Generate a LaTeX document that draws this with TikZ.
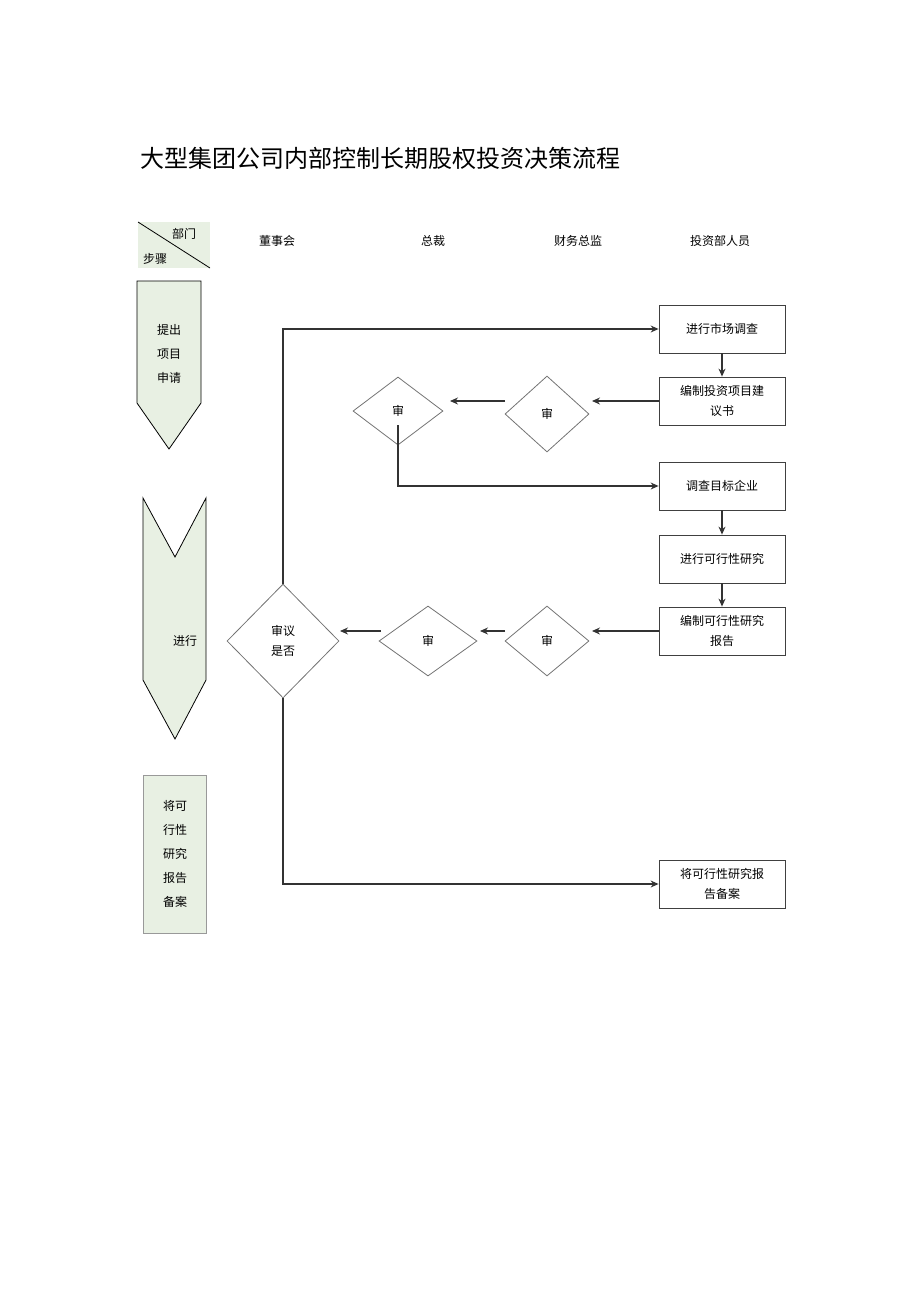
\documentclass[tikz,border=0pt]{standalone}
\usepackage{fontspec}
\setmainfont{Noto Sans CJK SC}
\usetikzlibrary{shapes.geometric,arrows.meta}
\definecolor{stepfill}{rgb}{0.91,0.94,0.89}
\tikzset{
  box/.style={draw=black!75, line width=0.8pt, minimum width=126, minimum height=48, align=center, font=\fontsize{12}{20}\selectfont},
  chk/.style={draw=black!55, line width=0.8pt, diamond, inner sep=0, align=center, font=\fontsize{12}{20}\selectfont},
  flow/.style={line width=1.2pt, black!80, -{Stealth[length=8pt,width=7pt]}},
  lane/.style={font=\fontsize{12}{14}\selectfont},
}
\begin{document}
\begin{tikzpicture}[x=1pt,y=-1pt]
    \useasboundingbox (0,0) rectangle (920,1301);
    \node[anchor=west, font=\fontsize{24}{26}\selectfont] (title) at (137,158) {大型集团公司内部控制长期股权投资决策流程};
    % header
    \draw[fill=stepfill, draw=none] (138,222) rectangle (210,268);
    \draw[line width=0.8pt] (138,222) -- (210,268);
    \node[lane] (dept) at (184,234) {部门};
    \node[lane] (step) at (155,259) {步骤};
    \node[lane] (board) at (277,241) {董事会};
    \node[lane] (ceo) at (433,241) {总裁};
    \node[lane] (cfo) at (578,241) {财务总监};
    \node[lane] (staff) at (720,241) {投资部人员};
    % steps
    \draw[fill=stepfill, line width=0.8pt] (137,281) -- (201,281) -- (201,403) -- (169,449) -- (137,403) -- cycle;
    \node[align=center, font=\fontsize{12}{24}\selectfont] (s1) at (169,354) {提出\\项目\\申请};
    \draw[fill=stepfill, line width=0.8pt] (143,498) -- (175,557) -- (206,498) -- (206,680) -- (175,739) -- (143,680) -- cycle;
    \node[lane] (s2) at (185,641) {进行};
    \draw[fill=stepfill, draw=black!40, line width=0.8pt] (143,775) rectangle (206,933);
    \node[align=center, font=\fontsize{12}{24}\selectfont] (s3) at (175,854) {将可\\行性\\研究\\报告\\备案};
    % staff boxes
    \node[box] (b1) at (722,329) {进行市场调查};
    \node[box] (b2) at (722,401) {编制投资项目建\\议书};
    \node[box] (b3) at (722,486) {调查目标企业};
    \node[box] (b4) at (722,559) {进行可行性研究};
    \node[box] (b5) at (722,631) {编制可行性研究\\报告};
    \node[box] (b6) at (722,884) {将可行性研究报\\告备案};
    % checks
    \node[chk, minimum width=90, minimum height=68] (c1) at (398,411) {审};
    \node[chk, minimum width=84, minimum height=76] (c2) at (547,414) {审};
    \node[chk, minimum width=98, minimum height=70] (c3) at (428,641) {审};
    \node[chk, minimum width=84, minimum height=70] (c4) at (547,641) {审};
    \node[chk, minimum width=112, minimum height=114] (c5) at (283,641) {审议\\是否};
    % arrow ends on the two rows
    \coordinate (r1a) at (592,401);
    \coordinate (r1b) at (505,401);
    \coordinate (r1c) at (450,401);
    \coordinate (r2a) at (592,631);
    \coordinate (r2b) at (505,631);
    \coordinate (r2c) at (480,631);
    \coordinate (r2d) at (381,631);
    \coordinate (r2e) at (340,631);
    \coordinate (c1s) at (398,425);
    % connectors
    \draw[flow] (b1) -- (b2);
    \draw[flow] (b3) -- (b4);
    \draw[flow] (b4) -- (b5);
    \draw[flow] (b2.west) -- (r1a);
    \draw[flow] (r1b) -- (r1c);
    \draw[flow] (c1s) |- (b3.west);
    \draw[flow] (b5.west) -- (r2a);
    \draw[flow] (r2b) -- (r2c);
    \draw[flow] (r2d) -- (r2e);
    \draw[flow] (c5.north) |- (b1.west);
    \draw[flow] (c5.south) |- (b6.west);
\end{tikzpicture}
\end{document}
